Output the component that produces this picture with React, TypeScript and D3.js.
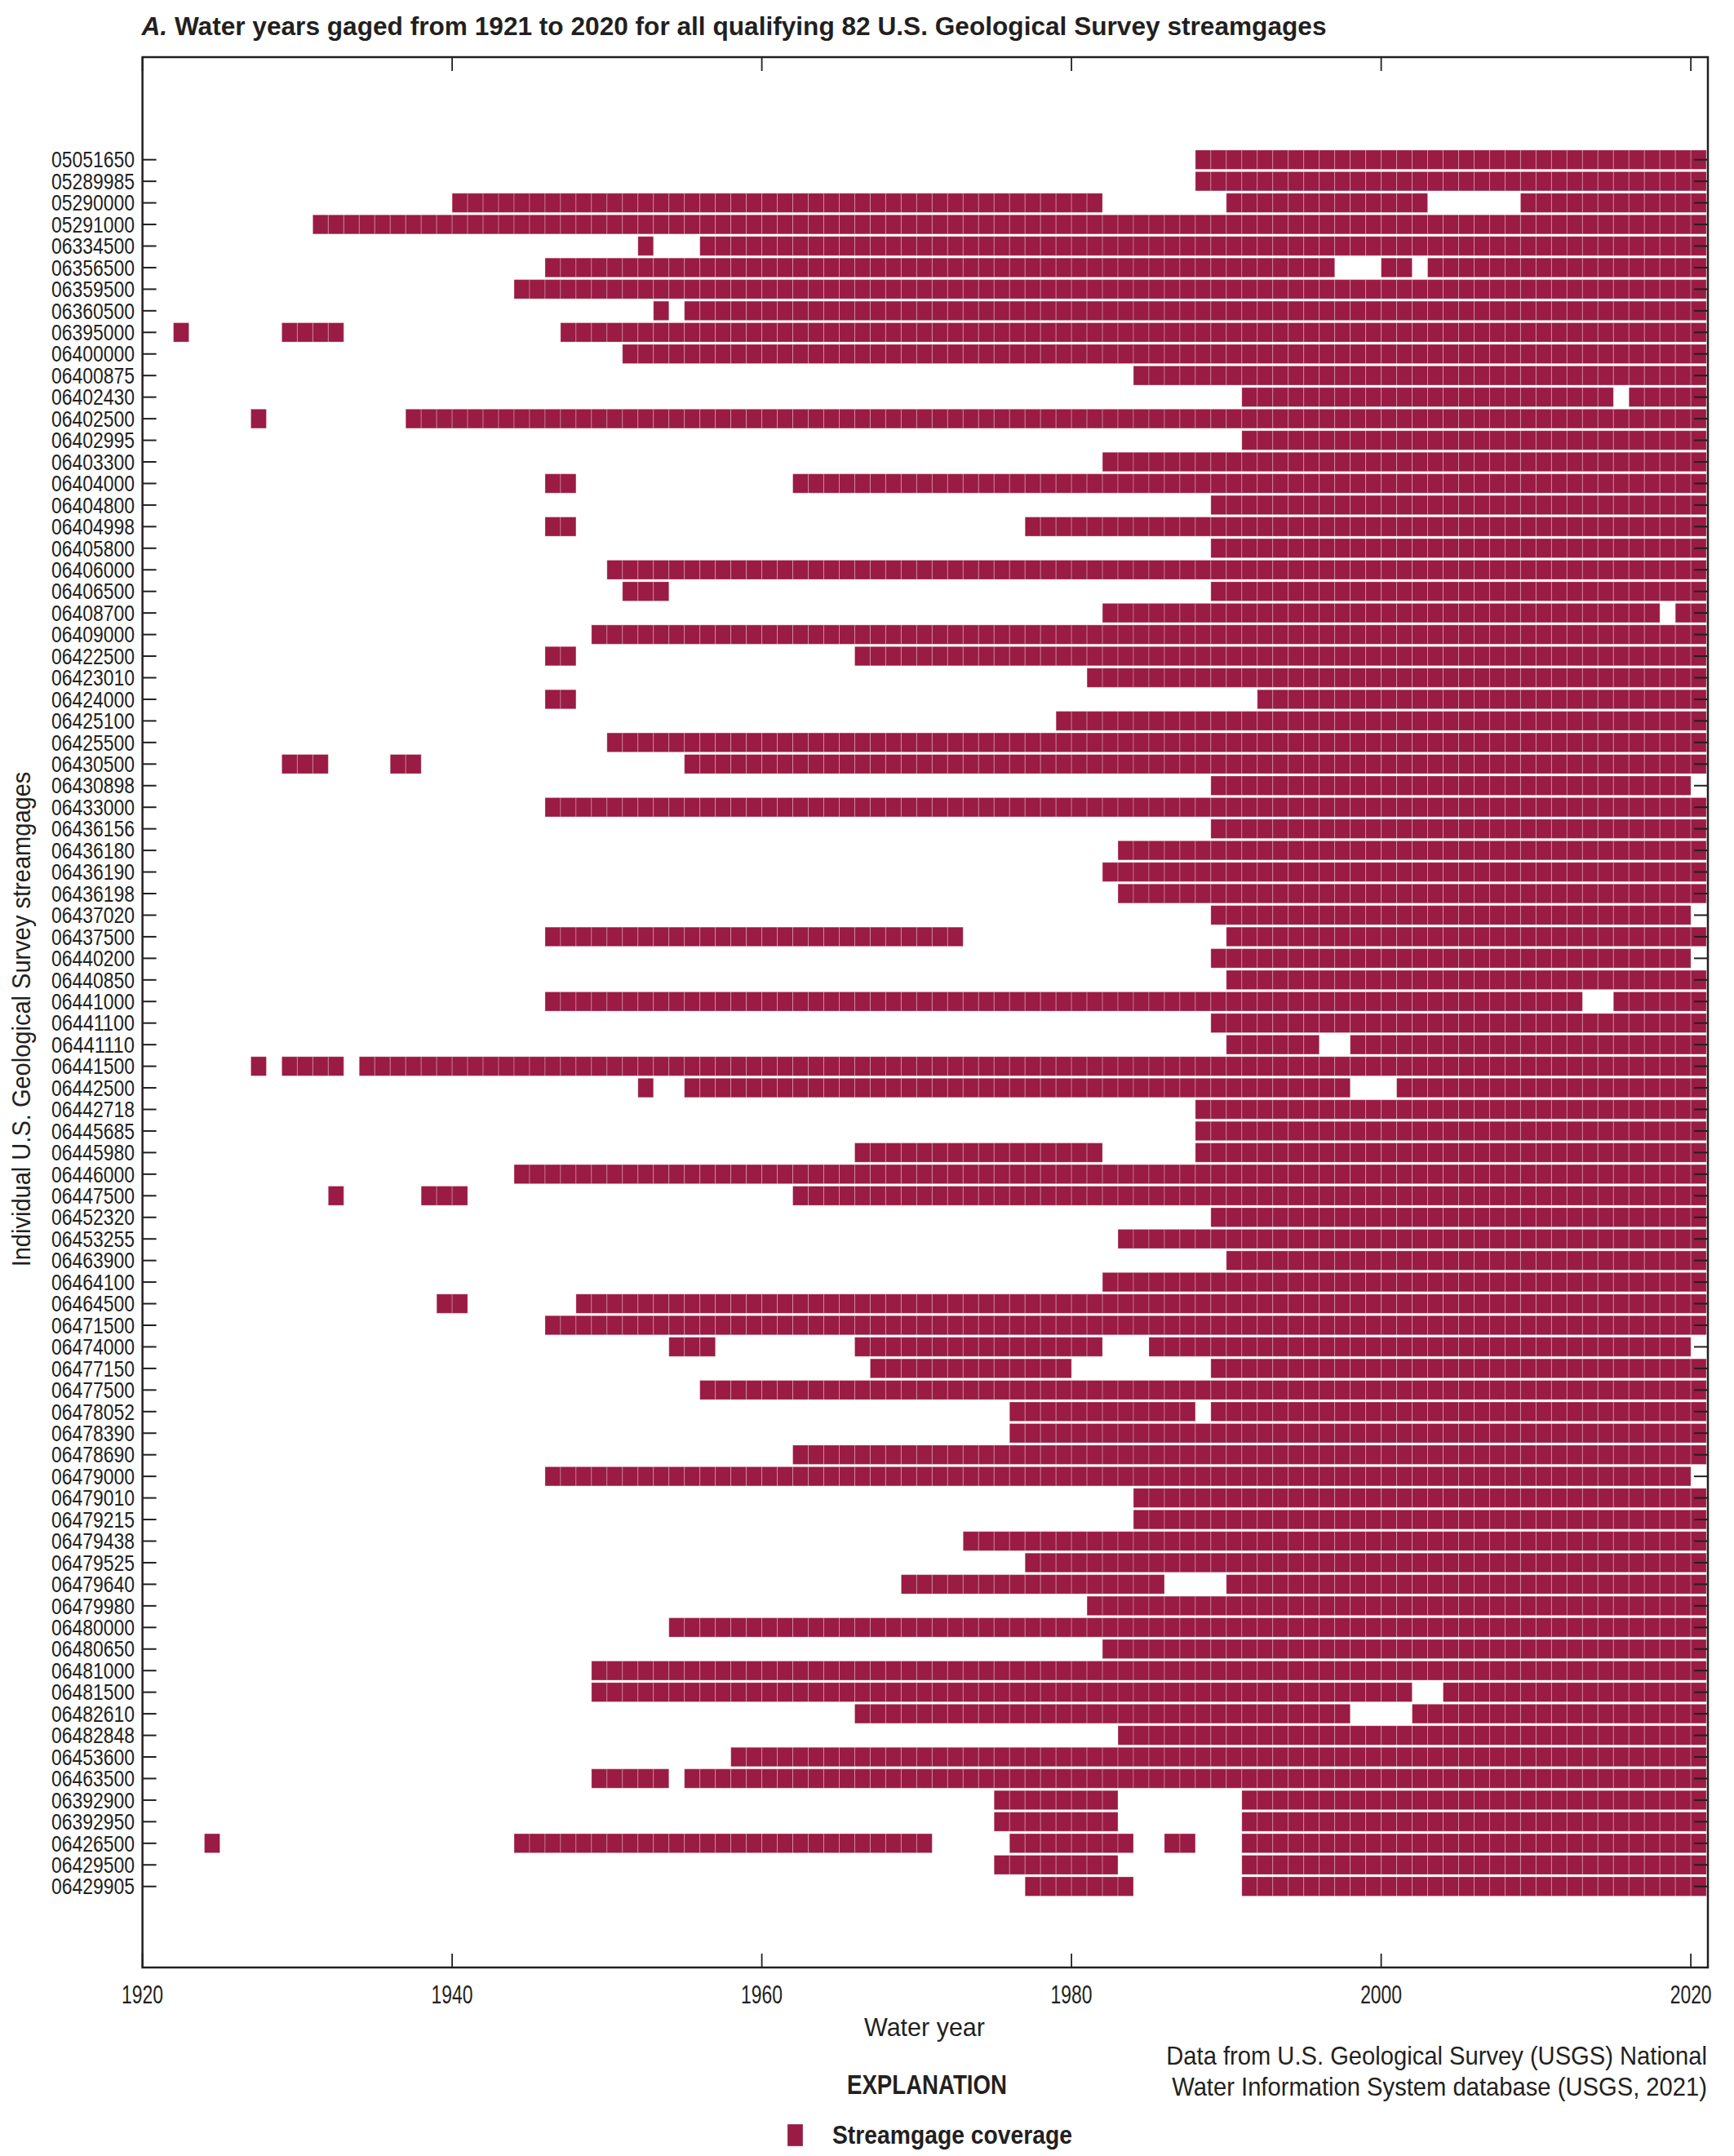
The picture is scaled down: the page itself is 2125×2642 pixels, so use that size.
import React from "react";
import * as d3 from "d3";

const STATIONS: string[] = [
  "05051650", "05289985", "05290000", "05291000", "06334500", "06356500", "06359500", "06360500",
  "06395000", "06400000", "06400875", "06402430", "06402500", "06402995", "06403300", "06404000",
  "06404800", "06404998", "06405800", "06406000", "06406500", "06408700", "06409000", "06422500",
  "06423010", "06424000", "06425100", "06425500", "06430500", "06430898", "06433000", "06436156",
  "06436180", "06436190", "06436198", "06437020", "06437500", "06440200", "06440850", "06441000",
  "06441100", "06441110", "06441500", "06442500", "06442718", "06445685", "06445980", "06446000",
  "06447500", "06452320", "06453255", "06463900", "06464100", "06464500", "06471500", "06474000",
  "06477150", "06477500", "06478052", "06478390", "06478690", "06479000", "06479010", "06479215",
  "06479438", "06479525", "06479640", "06479980", "06480000", "06480650", "06481000", "06481500",
  "06482610", "06482848", "06453600", "06463500", "06392900", "06392950", "06426500", "06429500",
  "06429905",
];

// Gaged water-year segments [first, last] for each station (same order as STATIONS)
const COVERAGE: [number, number][][] = [
  [[1988, 2020]],
  [[1988, 2020]],
  [[1940, 1981], [1990, 2002], [2009, 2020]],
  [[1931, 2020]],
  [[1952, 1952], [1956, 2020]],
  [[1946, 1996], [2000, 2001], [2003, 2020]],
  [[1944, 2020]],
  [[1953, 1953], [1955, 2020]],
  [[1922, 1922], [1929, 1932], [1947, 2020]],
  [[1951, 2020]],
  [[1984, 2020]],
  [[1991, 2014], [2016, 2020]],
  [[1927, 1927], [1937, 2020]],
  [[1991, 2020]],
  [[1982, 2020]],
  [[1946, 1947], [1962, 2020]],
  [[1989, 2020]],
  [[1946, 1947], [1977, 2020]],
  [[1989, 2020]],
  [[1950, 2020]],
  [[1951, 1953], [1989, 2020]],
  [[1982, 2017], [2019, 2020]],
  [[1949, 2020]],
  [[1946, 1947], [1966, 2020]],
  [[1981, 2020]],
  [[1946, 1947], [1992, 2020]],
  [[1979, 2020]],
  [[1950, 2020]],
  [[1929, 1931], [1936, 1937], [1955, 2020]],
  [[1989, 2019]],
  [[1946, 2020]],
  [[1989, 2020]],
  [[1983, 2020]],
  [[1982, 2020]],
  [[1983, 2020]],
  [[1989, 2019]],
  [[1946, 1972], [1990, 2020]],
  [[1989, 2019]],
  [[1990, 2020]],
  [[1946, 2012], [2015, 2020]],
  [[1989, 2020]],
  [[1990, 1995], [1998, 2020]],
  [[1927, 1927], [1929, 1932], [1934, 2020]],
  [[1952, 1952], [1955, 1997], [2001, 2020]],
  [[1988, 2020]],
  [[1988, 2020]],
  [[1966, 1981], [1988, 2020]],
  [[1944, 2020]],
  [[1932, 1932], [1938, 1940], [1962, 2020]],
  [[1989, 2020]],
  [[1983, 2020]],
  [[1990, 2020]],
  [[1982, 2020]],
  [[1939, 1940], [1948, 2020]],
  [[1946, 2020]],
  [[1954, 1956], [1966, 1981], [1985, 2019]],
  [[1967, 1979], [1989, 2020]],
  [[1956, 2020]],
  [[1976, 1987], [1989, 2020]],
  [[1976, 2020]],
  [[1962, 2020]],
  [[1946, 2019]],
  [[1984, 2020]],
  [[1984, 2020]],
  [[1973, 2020]],
  [[1977, 2020]],
  [[1969, 1985], [1990, 2020]],
  [[1981, 2020]],
  [[1954, 2020]],
  [[1982, 2020]],
  [[1949, 2020]],
  [[1949, 2001], [2004, 2020]],
  [[1966, 1997], [2002, 2020]],
  [[1983, 2020]],
  [[1958, 2020]],
  [[1949, 1953], [1955, 2020]],
  [[1975, 1982], [1991, 2020]],
  [[1975, 1982], [1991, 2020]],
  [[1924, 1924], [1944, 1970], [1976, 1983], [1986, 1987], [1991, 2020]],
  [[1975, 1982], [1991, 2020]],
  [[1977, 1983], [1991, 2020]],
];

const X_TICKS: number[] = [1920, 1940, 1960, 1980, 2000, 2020];

const TITLE_PREFIX = "A.";
const TITLE_REST = " Water years gaged from 1921 to 2020 for all qualifying 82 U.S. Geological Survey streamgages";
const Y_TITLE = "Individual U.S. Geological Survey streamgages";
const X_TITLE = "Water year";
const SOURCE_LINES: string[] = [
  "Data from U.S. Geological Survey (USGS) National",
  "Water Information System database (USGS, 2021)",
];
const LEGEND_TITLE = "EXPLANATION";
const LEGEND_LABEL = "Streamgage coverage";

const W = 2125;
const H = 2642;
const FAMILY = "'Liberation Sans', Arial, Helvetica, sans-serif";
const INK = "#231f20";
const BAR = "#9a1b44";

const PLOT = { left: 174.6, right: 2093, top: 70, bottom: 2411 };

let _ctx: CanvasRenderingContext2D | null = null;
function measure(text: string, size: number, weight = "normal", style = "normal"): number {
  if (!_ctx && typeof document !== "undefined") {
    _ctx = document.createElement("canvas").getContext("2d");
  }
  if (!_ctx) return text.length * size * 0.55;
  _ctx.font = `${style} ${weight} ${size}px ${FAMILY}`;
  return _ctx.measureText(text).width;
}

type FitProps = {
  x: number;
  y: number;
  width: number;
  size: number;
  anchor?: "start" | "middle" | "end";
  weight?: string;
  rotate?: number;
  children: string;
};

function FitText({ x, y, width, size, anchor = "start", weight = "normal", rotate = 0, children }: FitProps) {
  const natural = measure(children, size, weight);
  const sx = natural > 0 ? width / natural : 1;
  return (
    <text
      transform={`translate(${x},${y}) rotate(${rotate}) scale(${sx},1)`}
      fontSize={size}
      fontWeight={weight}
      textAnchor={anchor}
      fill={INK}
    >
      {children}
    </text>
  );
}

export default function App() {
  const x = d3.scaleLinear().domain([1920, 2021.1]).range([PLOT.left, PLOT.right]);
  const y = d3.scalePoint<string>().domain(STATIONS).range([195.7, 2311.7]);
  const bandH = y.step() * 0.89;

  const cells: { key: string; x0: number; x1: number; yc: number }[] = [];
  STATIONS.forEach((s, i) => {
    COVERAGE[i].forEach(([a, b]) => {
      d3.range(a, b + 1).forEach((yr) => {
        cells.push({ key: `${s}-${yr}`, x0: x(yr), x1: x(yr + 1), yc: y(s) as number });
      });
    });
  });

  const titleSize = 31.5;
  const titleNatural =
    measure(TITLE_PREFIX, titleSize, "bold", "italic") + measure(TITLE_REST, titleSize, "bold");
  const titleSx = 1453 / titleNatural;

  return (
    <svg
      width={W}
      height={H}
      viewBox={`0 0 ${W} ${H}`}
      style={{ position: "absolute", left: 0, top: 0, display: "block", background: "#fff" }}
      fontFamily={FAMILY}
    >
      <rect x={0} y={0} width={W} height={H} fill="#fff" />
      {/* Title */}
      <text
        transform={`translate(173.5,43) scale(${titleSx},1)`}
        fontSize={titleSize}
        fontWeight="bold"
        fill={INK}
      >
        <tspan fontStyle="italic">{TITLE_PREFIX}</tspan>
        <tspan>{TITLE_REST}</tspan>
      </text>

      {/* Cells */}
      <g>
        {cells.map((c) => (
          <rect
            key={c.key}
            x={c.x0}
            y={c.yc - bandH / 2}
            width={c.x1 - c.x0}
            height={bandH}
            fill={BAR}
            stroke="rgba(255,255,255,0.28)"
            strokeWidth={1}
          />
        ))}
      </g>

      {/* Frame */}
      <rect
        x={PLOT.left}
        y={PLOT.top}
        width={PLOT.right - PLOT.left}
        height={PLOT.bottom - PLOT.top}
        fill="none"
        stroke={INK}
        strokeWidth={2.5}
      />

      {/* Y ticks and labels */}
      <g>
        {STATIONS.map((s) => {
          const yy = y(s) as number;
          return (
            <g key={s}>
              <line x1={PLOT.left} x2={PLOT.left + 17} y1={yy} y2={yy} stroke={INK} strokeWidth={2} />
              <line x1={PLOT.right - 17} x2={PLOT.right} y1={yy} y2={yy} stroke={INK} strokeWidth={2} />
              <FitText x={165} y={yy + 9.7} width={102} size={27} anchor="end">
                {s}
              </FitText>
            </g>
          );
        })}
      </g>

      {/* X ticks and labels */}
      <g>
        {X_TICKS.map((t) => (
          <g key={t}>
            <line x1={x(t)} x2={x(t)} y1={PLOT.bottom} y2={PLOT.bottom - 17} stroke={INK} strokeWidth={1.8} />
            <line x1={x(t)} x2={x(t)} y1={PLOT.top} y2={PLOT.top + 17} stroke={INK} strokeWidth={1.8} />
            <FitText x={x(t)} y={2455} width={51} size={30.5} anchor="middle">
              {String(t)}
            </FitText>
          </g>
        ))}
      </g>

      {/* Axis titles */}
      <FitText x={1059} y={2495} width={148} size={31.5}>
        {X_TITLE}
      </FitText>
      <FitText x={37} y={1249} width={607} size={31.5} anchor="middle" rotate={-90}>
        {Y_TITLE}
      </FitText>

      {/* Source note */}
      {SOURCE_LINES.map((line, i) => (
        <FitText key={i} x={2092} y={2530 + i * 38} width={i === 0 ? 663 : 656} size={31.5} anchor="end">
          {line}
        </FitText>
      ))}

      {/* Legend */}
      <FitText x={1038} y={2566} width={196} size={33} weight="bold">
        {LEGEND_TITLE}
      </FitText>
      <rect x={965} y={2603} width={19} height={27} fill={BAR} stroke="rgba(255,255,255,0.28)" strokeWidth={1} />
      <FitText x={1020} y={2627} width={294} size={30.5} weight="bold">
        {LEGEND_LABEL}
      </FitText>
    </svg>
  );
}
